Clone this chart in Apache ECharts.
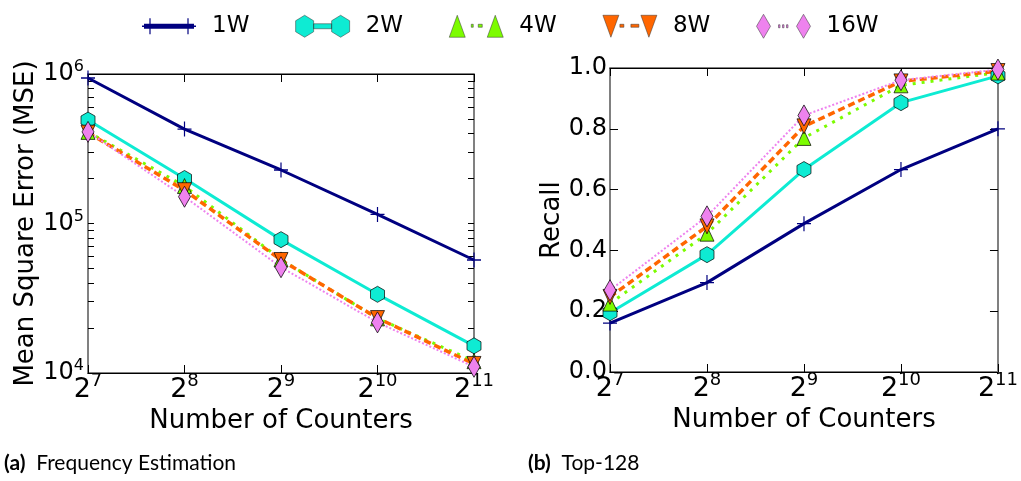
<!DOCTYPE html>
<html>
<head>
<meta charset="utf-8">
<script src="https://cdn.jsdelivr.net/npm/echarts@6/dist/echarts.min.js"></script>
<style>
html,body{margin:0;padding:0;background:#fff;}
#c{width:1021px;height:481px;}
</style>
</head>
<body>
<div id="c"></div>
<script>
// ---- data ----
const counters = [128, 256, 512, 1024, 2048];
const seriesNames = ['1W', '2W', '4W', '8W', '16W'];
const mse1W  = [940000, 428000, 228000, 115000, 57000];
const mse2W  = [492000, 200000, 78000, 33600, 15200];
const mse4W  = [410000, 178000, 57500, 23200, 12000];
const mse8W  = [405000, 167000, 57000, 23300, 11500];
const mse16W = [410000, 151000, 51000, 21800, 11000];
const recall1W  = [0.161, 0.294, 0.488, 0.666, 0.800];
const recall2W  = [0.195, 0.386, 0.666, 0.886, 0.974];
const recall4W  = [0.225, 0.455, 0.770, 0.943, 0.985];
const recall8W  = [0.247, 0.479, 0.808, 0.956, 0.990];
const recall16W = [0.269, 0.512, 0.844, 0.960, 0.995];
const mseTicksMajor = [1e4, 1e5, 1e6];
const mseTicksMinor = [2e4,3e4,4e4,5e4,6e4,7e4,8e4,9e4,2e5,3e5,4e5,5e5,6e5,7e5,8e5,9e5];
const recallTicks = [0, 0.2, 0.4, 0.6, 0.8, 1.0];
const captionA = 'Frequency Estimation';
const captionB = 'Top-128';

// ---- styles ----
const FONT = 'DejaVu Sans';
const colors = ['#000080', '#0EEBD3', '#7CFC00', '#FF6600', '#EE82EE'];
const symbols = [
  'path://M-0.6,-7H0.6V-0.6H7V0.6H0.6V7H-0.6V0.6H-7V-0.6H-0.6Z',
  'path://M0,-10L8.66,-5L8.66,5L0,10L-8.66,5L-8.66,-5Z',
  'triangle',
  'path://M-8,-7L8,-7L0,8Z',
  'diamond'
];
const symbolSizes = [[14, 15], [14, 16], [14, 15], [14, 15], [12, 21]];
const lineStyles = [
  {width: 3, type: 'solid'},
  {width: 3, type: 'solid'},
  {width: 3, type: [3, 6]},
  {width: 3.5, type: [7, 4]},
  {width: 2, type: [2, 2]}
];
const legendIcons = [
  'path://M0,0L0.01,0L0,0.01Z M54,24L53.99,24L54,23.99Z M0,11.3H54V12.7H0Z M2,9.5H52V14.5H2Z M7.4,4H8.6V20H7.4Z M45.4,4H46.6V20H45.4Z',
  'path://M9,1L18,6.5L18,17.5L9,23L0,17.5L0,6.5Z M18,9.5H36V14.5H18Z M45,1L54,6.5L54,17.5L45,23L36,17.5L36,6.5Z',
  'path://M8,1L16,23L0,23Z M22,10H24V13H22Z M29,10H33V13H29Z M46,1L54,23L38,23Z',
  'path://M0,1L16,1L8,23Z M17,10H21V13H17Z M28,10H36V13H28Z M38,1L54,1L46,23Z',
  'path://M7,0L14,12L7,24L0,12Z M22,10.5H23.5V13.5H22Z M26,10.5H27.5V13.5H26Z M30,10.5H31.5V13.5H30Z M40,12L47,0L54,12L47,24Z'
];

const mseData = [mse1W, mse2W, mse4W, mse8W, mse16W];
const recallData = [recall1W, recall2W, recall4W, recall8W, recall16W];

function xLabel(v) {
  return '{b|2}{s|' + Math.round(Math.log2(v)) + '}';
}
function yLogLabel(v) {
  return '{b|10}{s|' + Math.round(Math.log10(v)) + '}';
}
const xRich = {
  b: {fontFamily: FONT, fontSize: 27, lineHeight: 36, color: '#000'},
  s: {fontFamily: FONT, fontSize: 18, lineHeight: 14, verticalAlign: 'top', color: '#000'}
};
const yRich = {
  b: {fontFamily: FONT, fontSize: 24, lineHeight: 30, color: '#000'},
  s: {fontFamily: FONT, fontSize: 16, lineHeight: 12, verticalAlign: 'top', color: '#000'}
};

function makeX(gridIndex, pos) {
  const main = pos === 'bottom';
  return {
    type: 'log', logBase: 2, gridIndex: gridIndex, position: pos,
    min: 128, max: 2048,
    name: main ? 'Number of Counters' : '',
    nameLocation: 'middle', nameGap: 30,
    nameTextStyle: {fontFamily: FONT, fontSize: 26, color: '#000'},
    axisLine: {show: true, onZero: false, lineStyle: {color: '#000', width: 1}},
    axisTick: {show: true, inside: true, length: 8, lineStyle: {color: '#000'}},
    axisLabel: {show: main, margin: -1, formatter: xLabel, rich: xRich},
    splitLine: {show: false}, minorTick: {show: false}
  };
}
function makeYLog(pos) {
  const main = pos === 'left';
  return {
    type: 'log', logBase: 10, gridIndex: 0, position: pos,
    min: 1e4, max: 1e6,
    name: main ? 'Mean Square Error (MSE)' : '',
    nameLocation: 'middle', nameGap: 46,
    nameTextStyle: {fontFamily: FONT, fontSize: 26, color: '#000'},
    axisLine: {show: true, lineStyle: {color: '#808080', width: 2}},
    axisTick: {show: true, inside: true, length: 6, customValues: mseTicksMajor.concat(mseTicksMinor), lineStyle: {color: '#000'}},
    axisLabel: {show: main, margin: 4, customValues: mseTicksMajor, formatter: yLogLabel, rich: yRich},
    splitLine: {show: false}
  };
}
function makeYLin(pos) {
  const main = pos === 'left';
  return {
    type: 'value', gridIndex: 1, position: pos,
    min: 0, max: 1, interval: 0.2,
    name: main ? 'Recall' : '',
    nameLocation: 'middle', nameGap: 45,
    nameTextStyle: {fontFamily: FONT, fontSize: 26, color: '#000'},
    axisLine: {show: true, lineStyle: {color: '#808080', width: 2}},
    axisTick: {show: true, inside: true, length: 8, lineStyle: {color: '#000'}},
    axisLabel: {show: main, margin: 3, fontFamily: FONT, fontSize: 24, color: '#000',
      formatter: v => v.toFixed(1)},
    splitLine: {show: false}
  };
}

const series = [];
[mseData, recallData].forEach((dataset, g) => {
  dataset.forEach((vals, i) => {
    series.push({
      name: seriesNames[i], type: 'line',
      xAxisIndex: g * 2, yAxisIndex: g * 2,
      data: counters.map((c, k) => [c, vals[k]]),
      symbol: symbols[i], symbolSize: symbolSizes[i],
      showAllSymbol: true, clip: true,
      lineStyle: Object.assign({color: colors[i]}, lineStyles[i]),
      itemStyle: {color: colors[i], borderColor: i === 0 ? colors[i] : '#000', borderWidth: i === 0 ? 0 : 0.7, opacity: 1},
      emphasis: {disabled: true},
      animation: false
    });
  });
});

const option = {
  backgroundColor: '#fff',
  animation: false,
  legend: {
    left: 137, top: 9,
    itemWidth: 54, itemHeight: 24, itemGap: 46,
    textStyle: {fontFamily: FONT, fontSize: 23, color: '#000', padding: [0, 0, 0, 11]},
    data: seriesNames.map((n, i) => ({
      name: n, icon: legendIcons[i],
      itemStyle: i === 0 ? {borderWidth: 0} : {borderColor: '#333', borderWidth: 0.5}
    }))
  },
  grid: [
    {left: 88, top: 74, width: 386, height: 299, show: true, borderColor: '#000', borderWidth: 1, backgroundColor: 'transparent'},
    {left: 610, top: 68, width: 392, height: 304, show: true, borderColor: '#000', borderWidth: 1, backgroundColor: 'transparent'}
  ],
  xAxis: [makeX(0, 'bottom'), makeX(0, 'top'), makeX(1, 'bottom'), makeX(1, 'top')],
  yAxis: [makeYLog('left'), makeYLog('right'), makeYLin('left'), makeYLin('right')],
  series: series,
  graphic: [
    {type: 'text', left: 4, top: 453, style: {
      text: '{a|(a)}  ' + captionA, fontFamily: 'Lato', fontSize: 21, fill: '#000',
      rich: {a: {fontFamily: 'Lato', fontSize: 21, fontWeight: 'bold', fill: '#000'}}}},
    {type: 'text', left: 528, top: 453, style: {
      text: '{a|(b)}  ' + captionB, fontFamily: 'Lato', fontSize: 21, fill: '#000',
      rich: {a: {fontFamily: 'Lato', fontSize: 21, fontWeight: 'bold', fill: '#000'}}}}
  ]
};
const chart = echarts.init(document.getElementById('c'), null, {renderer: 'canvas'});
chart.setOption(option);
</script>
</body>
</html>
